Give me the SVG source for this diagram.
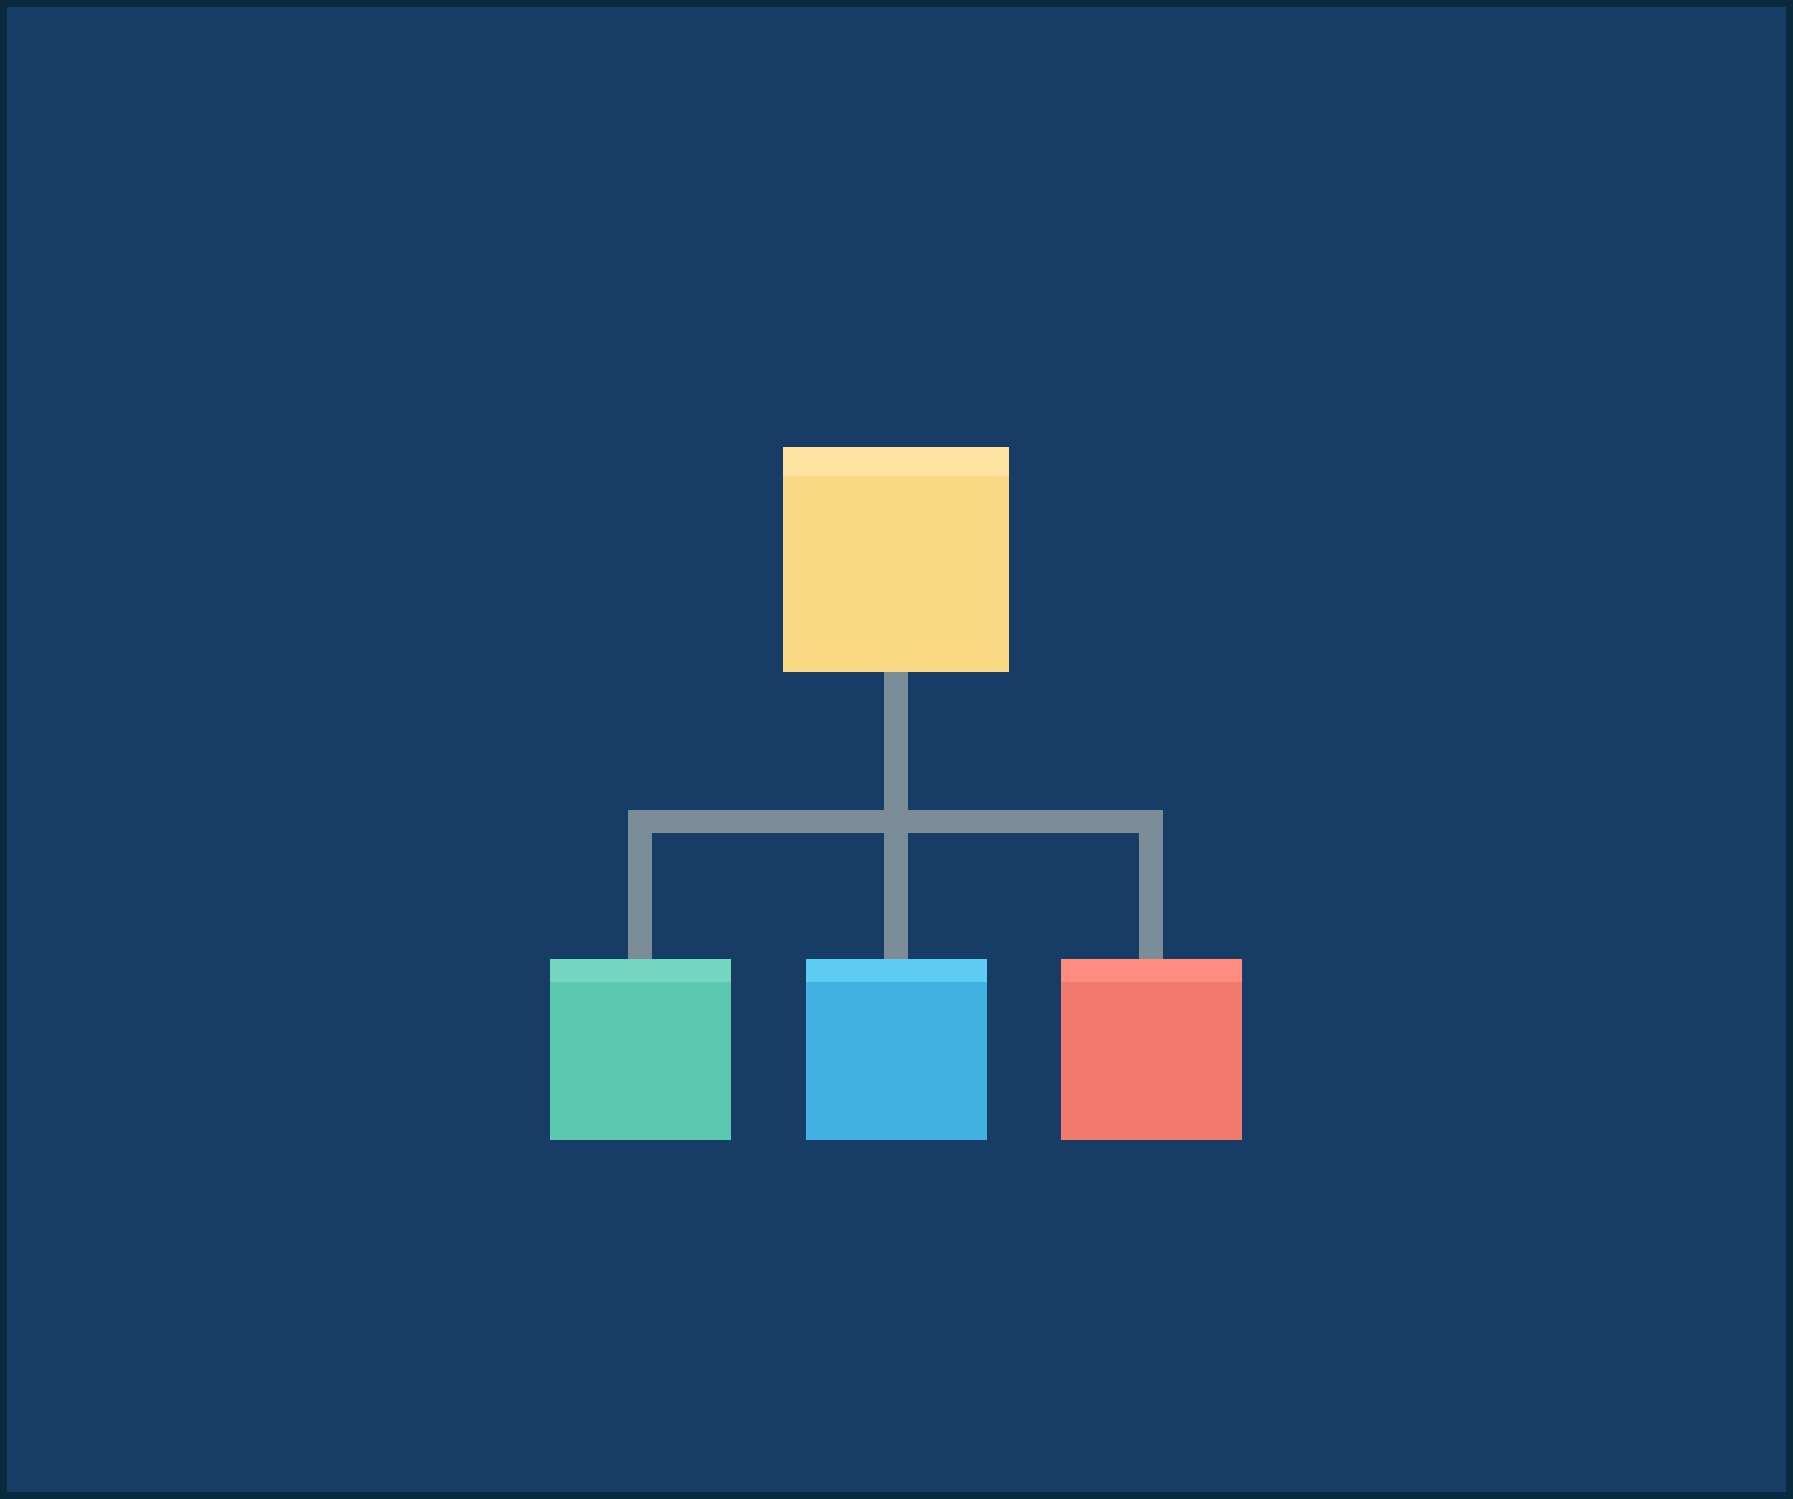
<svg xmlns="http://www.w3.org/2000/svg" width="1793" height="1499" viewBox="0 0 1793 1499">
<style>
.conn{fill:#7A8D99}
.body{stroke-width:1;stroke-opacity:0.35}
</style>
<rect x="0" y="0" width="1793" height="1499" fill="#082A3C"/>
<rect x="7" y="7" width="1779" height="1485" fill="#173D66"/>
<g id="connectors">
<rect class="conn" x="884" y="672" width="24" height="287"/>
<rect class="conn" x="628" y="810" width="535" height="23"/>
<rect class="conn" x="628" y="810" width="24" height="149"/>
<rect class="conn" x="1139" y="810" width="24" height="149"/>
</g>
<g id="root">
<rect x="783" y="447" width="226" height="225" fill="#FAD985"/>
<rect x="783" y="447" width="226" height="29" fill="#FEE3A1"/>
</g>
<g id="child-green">
<rect x="550" y="959" width="181" height="181" fill="#5BC8B0"/>
<rect x="550" y="959" width="181" height="23" fill="#72D7BE"/>
</g>
<g id="child-blue">
<rect x="806" y="959" width="181" height="181" fill="#41B1E1"/>
<rect x="806" y="959" width="181" height="23" fill="#5CCCF3"/>
</g>
<g id="child-red">
<rect x="1061" y="959" width="181" height="181" fill="#F27A6C"/>
<rect x="1061" y="959" width="181" height="23" fill="#FE8C80"/>
</g>
</svg>
